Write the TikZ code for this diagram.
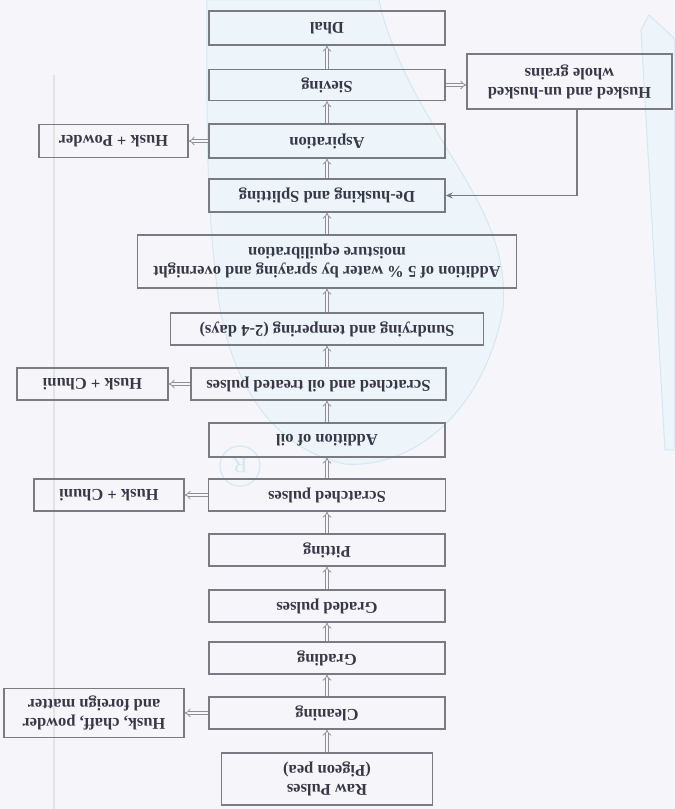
\documentclass[tikz,border=0pt]{standalone}
\usepackage{fontspec}
\setmainfont{Liberation Serif}
\usetikzlibrary{arrows.meta}
\definecolor{bg}{HTML}{F6F6FA}
\definecolor{boxc}{HTML}{7A7A82}
\definecolor{txtc}{HTML}{383848}
\definecolor{wm}{HTML}{EDF5FA}
\definecolor{wmline}{HTML}{D3E8F2}
\begin{document}
\begin{tikzpicture}[x=1pt,y=-1pt,rotate=180,transform shape,
  stepbox/.style={draw=boxc, line width=1.4pt, inner sep=2pt, align=center,
    text=txtc, font=\bfseries\fontsize{16.5}{19}\selectfont, minimum height=32pt},
  dar/.style={draw=boxc!85, double=bg, double distance=2.2pt, line width=0.8pt, -{Implies}},
  fb/.style={draw=boxc, line width=1.4pt, -{Stealth[length=7pt,width=6pt]}},
  wmark/.style={fill=wm, draw=wmline, line width=1pt}]
% background
\fill[bg] (0,0) rectangle (675,809);
\useasboundingbox (0,0) rectangle (675,809);
% watermark (faint)
\path[wmark] (468,809) .. controls (468,700) and (470,600) .. (455,500)
  .. controls (440,420) and (400,360) .. (330,345)
  .. controls (260,340) and (190,400) .. (172,500)
  .. controls (165,580) and (220,640) .. (245,690)
  .. controls (275,740) and (290,780) .. (296,809) -- cycle;
\path[wmark] (26,794) -- (0,770) -- (0,359) -- (10,359) -- (34,779) -- cycle;
\draw[draw=gray!22, line width=1.5pt] (621,0) -- (621,734);
\node[circle, draw=wmline, line width=1.2pt, minimum size=40pt, text=wmline,
  font=\fontsize{22}{22}\selectfont] (reg) at (435,343) {R};
% main column
\node[stepbox, minimum width=211pt, minimum height=52pt] (raw) at (348,30) {Raw Pulses\\(Pigeon pea)};
\node[stepbox, minimum width=236pt] (cln) at (348,96) {Cleaning};
\node[stepbox, minimum width=180pt, minimum height=49pt] (hcf) at (581,96) {Husk, chaff, powder\\and foreign matter};
\node[stepbox, minimum width=236pt] (grd) at (348,151) {Grading};
\node[stepbox, minimum width=236pt] (grp) at (348,203) {Graded pulses};
\node[stepbox, minimum width=236pt] (pit) at (348,259) {Pitting};
\node[stepbox, minimum width=237pt] (scp) at (348,314) {Scratched pulses};
\node[stepbox, minimum width=150pt] (hc1) at (566,314) {Husk + Chuni};
\node[stepbox, minimum width=236pt, minimum height=34pt] (addoil) at (348,369) {Addition of oil};
\node[stepbox, minimum width=255pt] (scoil) at (356.5,425) {Scratched and oil treated pulses};
\node[stepbox, minimum width=151pt] (hc2) at (582.5,425) {Husk + Chuni};
\node[stepbox, minimum width=313pt] (sun) at (348,480) {Sundrying and tempering (2-4 days)};
\node[stepbox, minimum width=379pt, minimum height=53pt] (addw) at (348,547.5) {Addition of 5 \% water by spraying and overnight\\moisture equilibration};
\node[stepbox, minimum width=236pt, minimum height=33pt] (dehusk) at (348,613.5) {De-husking and Splitting};
\node[stepbox, minimum width=236pt, minimum height=34pt] (asp) at (348,668) {Aspiration};
\node[stepbox, minimum width=149pt, minimum height=33pt] (hp) at (561.5,668) {Husk + Powder};
\node[stepbox, minimum width=236pt, minimum height=31pt] (siev) at (348,724) {Sieving};
\node[stepbox, minimum width=205pt, minimum height=55pt] (husked) at (105.5,727.5) {Husked and un-husked\\whole grains};
\node[stepbox, minimum width=236pt, minimum height=34pt] (dhal) at (348,781) {Dhal};
% vertical flow arrows
\draw[dar] (raw) -- (cln);
\draw[dar] (cln) -- (grd);
\draw[dar] (grd) -- (grp);
\draw[dar] (grp) -- (pit);
\draw[dar] (pit) -- (scp);
\draw[dar] (scp) -- (addoil);
\draw[dar] (addoil.south) -- (addoil.south |- scoil.north);
\draw[dar] (addoil.south |- scoil.south) -- (sun.north);
\draw[dar] (sun) -- (addw);
\draw[dar] (addw) -- (dehusk);
\draw[dar] (dehusk) -- (asp);
\draw[dar] (asp) -- (siev);
\draw[dar] (siev) -- (dhal);
% side arrows
\draw[dar] (cln.east) -- (cln.east -| hcf.west);
\draw[dar] (scp) -- (hc1);
\draw[dar] (scoil) -- (hc2);
\draw[dar] (asp) -- (hp);
\draw[dar] (siev.west) -- (siev.west -| husked.east);
% feedback
\coordinate (fbc) at (98,613.5);
\draw[fb] (husked.north -| fbc) -- (fbc) -- (dehusk.west);
\end{tikzpicture}
\end{document}
